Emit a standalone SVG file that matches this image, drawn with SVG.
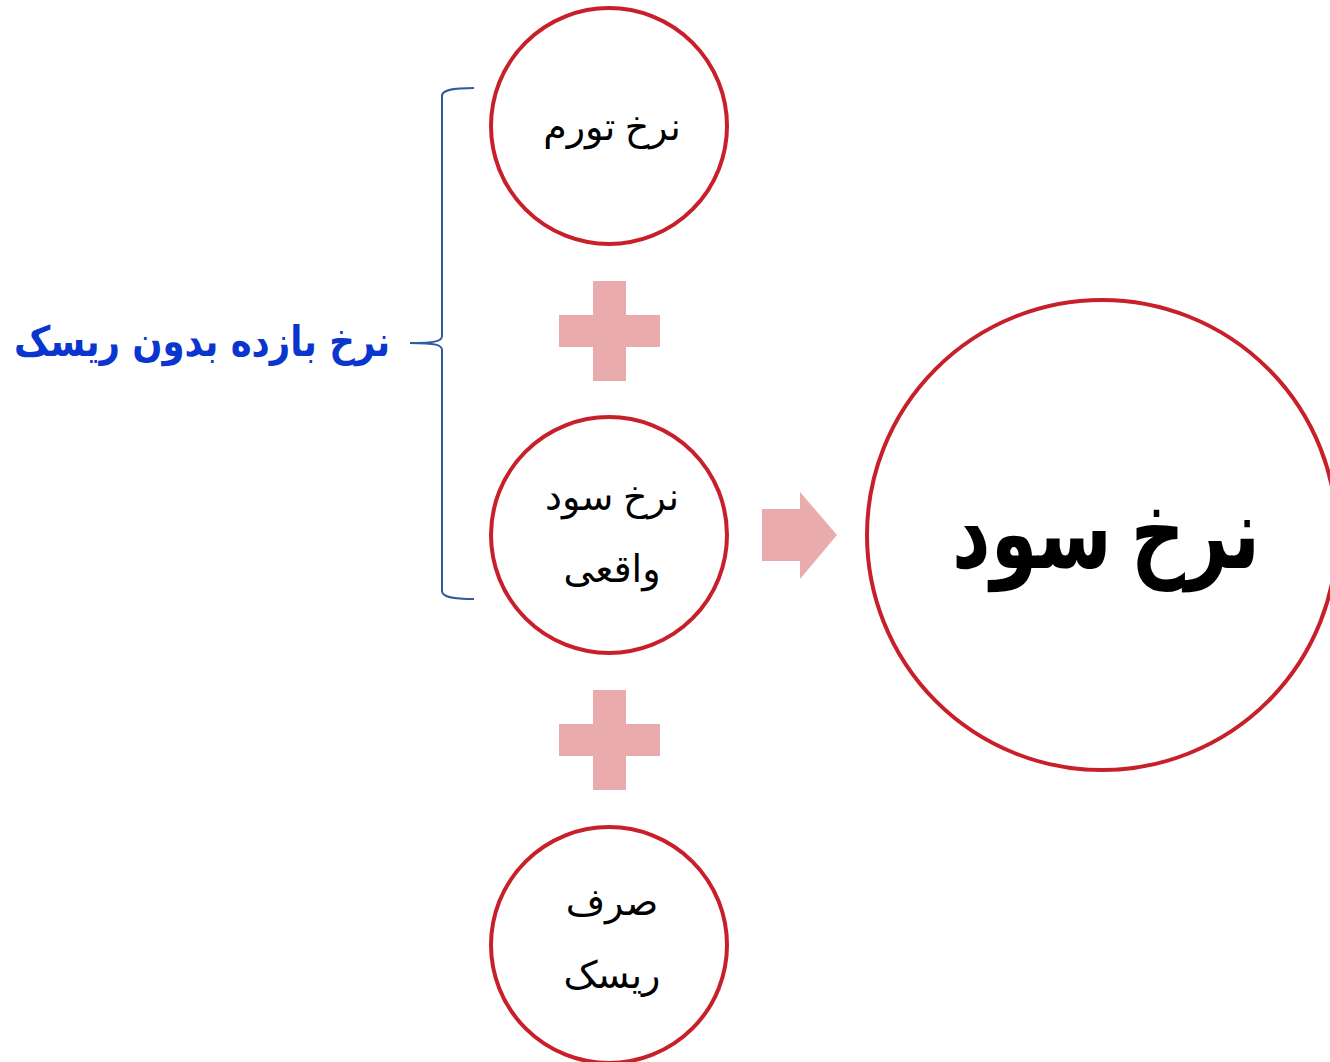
<svg xmlns="http://www.w3.org/2000/svg" width="1330" height="1062" viewBox="0 0 1330 1062">
<style>
.c{fill:#fff;stroke:#C8202A;stroke-width:4}
.t{font-family:"Liberation Serif","DejaVu Sans",serif;font-size:38px;fill:#000;text-anchor:middle}
.p{fill:#E9ABAC}
</style>
<rect width="1330" height="1062" fill="#fff"/>
<g id="connectors">
<path d="M474,88 C452,88 442,90 442,96 L442,336 C442,341 436,343 410,343 C436,343 442,345 442,350 L442,591 C442,597 452,599 474,599" fill="none" stroke="#2F5C9E" stroke-width="2"/>
<path class="p" d="M559,315 H593 V281 H626 V315 H660 V347 H626 V381 H593 V347 H559 Z"/>
<path class="p" d="M559,724 H593 V690 H626 V724 H660 V756 H626 V790 H593 V756 H559 Z"/>
<path class="p" d="M762,509 H800 V492 L837,535 L800,579 V561 H762 Z"/>
</g>
<g id="label">
<text x="202" y="356" font-family="'DejaVu Sans',sans-serif" font-weight="bold" font-size="42" fill="#0A35CF" text-anchor="middle" textLength="376" lengthAdjust="spacingAndGlyphs">نرخ بازده بدون ریسک</text>
</g>
<g id="n1">
<circle class="c" cx="609" cy="126" r="118"/>
<text class="t" x="612" y="140">نرخ تورم</text>
</g>
<g id="n2">
<circle class="c" cx="609" cy="535" r="118"/>
<text class="t" x="612" y="510">نرخ سود</text>
<text class="t" x="612" y="582">واقعی</text>
</g>
<g id="n3">
<circle class="c" cx="609" cy="945" r="118"/>
<text class="t" x="612" y="915">صرف</text>
<text class="t" x="612" y="988">ریسک</text>
</g>
<g id="n4">
<circle class="c" cx="1102" cy="535" r="235"/>
<text x="1106" y="568" font-family="'Liberation Serif','DejaVu Sans',serif" font-weight="bold" font-size="100" text-anchor="middle" textLength="308" lengthAdjust="spacingAndGlyphs">نرخ سود</text>
</g>
</svg>
